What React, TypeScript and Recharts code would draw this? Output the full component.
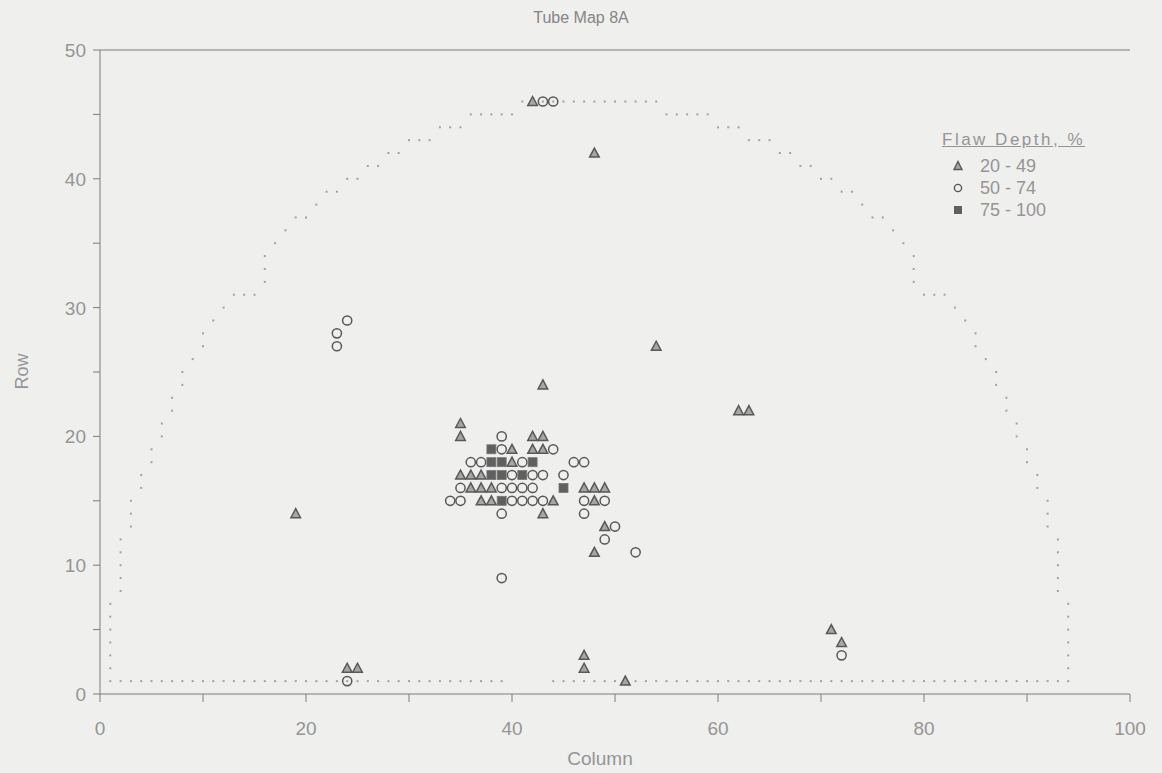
import React from 'react';
import { ScatterChart, Scatter, XAxis, YAxis, ReferenceLine } from 'recharts';

// ---------- data ----------
const xTicks = [0, 10, 20, 30, 40, 50, 60, 70, 80, 90, 100];
const xTickLabels = [0, 20, 40, 60, 80, 100];
const yTicks = [0, 5, 10, 15, 20, 25, 30, 35, 40, 45, 50];
const yTickLabels = [0, 10, 20, 30, 40, 50];

const chartTitle = 'Tube Map 8A';
const xTitle = 'Column';
const yTitle = 'Row';
const legendTitle = 'Flaw Depth, %';
const seriesNames = ['20 - 49', '50 - 74', '75 - 100'];

// tubes on the tubesheet boundary: row 1 columns
const outlineRow1Cols = [
  1, 2, 3, 4, 5, 6, 7, 8, 9, 10, 11, 12, 13, 14, 15, 16, 17, 18, 19, 20,
  21, 22, 23, 24, 25, 26, 27, 28, 29, 30, 31, 32, 33, 34, 35, 36, 37, 38, 39,
  44, 45, 46, 47, 48, 49, 50, 51, 52, 53, 54, 55, 56, 57, 58, 59, 60, 61, 62,
  63, 64, 65, 66, 67, 68, 69, 70, 71, 72, 73, 74, 75, 76, 77, 78, 79, 80, 81,
  82, 83, 84, 85, 86, 87, 88, 89, 90, 91, 92, 93, 94,
];

// boundary tubes above row 1: [column, row]
const outlineEdge: [number, number][] = [
  [1, 2], [1, 3], [1, 4], [1, 5], [1, 6], [1, 7],
  [2, 8], [2, 9], [2, 10], [2, 11], [2, 12],
  [3, 13], [3, 14], [3, 15],
  [4, 16], [4, 17],
  [5, 18], [5, 19],
  [6, 20], [6, 21],
  [7, 22], [7, 23],
  [8, 24], [8, 25],
  [9, 26],
  [10, 27], [10, 28],
  [11, 29],
  [12, 30],
  [13, 31], [14, 31], [15, 31],
  [16, 32], [16, 33], [16, 34],
  [17, 35],
  [18, 36],
  [19, 37], [20, 37],
  [21, 38],
  [22, 39], [23, 39],
  [24, 40], [25, 40],
  [26, 41], [27, 41],
  [28, 42], [29, 42],
  [30, 43], [31, 43], [32, 43],
  [33, 44], [34, 44], [35, 44],
  [36, 45], [37, 45], [38, 45], [39, 45], [40, 45],
  [41, 46], [42, 46], [43, 46], [44, 46], [45, 46], [46, 46], [47, 46],
  [48, 46], [49, 46], [50, 46], [51, 46], [52, 46], [53, 46], [54, 46],
  [55, 45], [56, 45], [57, 45], [58, 45], [59, 45],
  [60, 44], [61, 44], [62, 44],
  [63, 43], [64, 43], [65, 43],
  [66, 42], [67, 42],
  [68, 41], [69, 41],
  [70, 40], [71, 40],
  [72, 39], [73, 39],
  [74, 38],
  [75, 37], [76, 37],
  [77, 36],
  [78, 35],
  [79, 32], [79, 33], [79, 34],
  [80, 31], [81, 31], [82, 31],
  [83, 30],
  [84, 29],
  [85, 27], [85, 28],
  [86, 26],
  [87, 24], [87, 25],
  [88, 22], [88, 23],
  [89, 20], [89, 21],
  [90, 18], [90, 19],
  [91, 16], [91, 17],
  [92, 13], [92, 14], [92, 15],
  [93, 8], [93, 9], [93, 10], [93, 11], [93, 12],
  [94, 2], [94, 3], [94, 4], [94, 5], [94, 6], [94, 7],
];

// flaw depth 20 - 49 %  [column, row]
const flaw20to49: [number, number][] = [
  [19, 14], [24, 2], [25, 2], [35, 21], [35, 20], [42, 20], [43, 20],
  [40, 19], [42, 19], [43, 19], [40, 18], [35, 17], [36, 17], [37, 17],
  [36, 16], [37, 16], [38, 16], [37, 15], [38, 15], [44, 15], [43, 14],
  [47, 16], [48, 16], [49, 16], [48, 15], [49, 13], [48, 11], [47, 3],
  [47, 2], [51, 1], [42, 46], [48, 42], [54, 27], [62, 22], [63, 22],
  [71, 5], [72, 4], [43, 24],
];

// flaw depth 50 - 74 %
const flaw50to74: [number, number][] = [
  [24, 1], [23, 27], [23, 28], [24, 29], [39, 20], [39, 19], [44, 19],
  [36, 18], [37, 18], [41, 18], [46, 18], [47, 18], [40, 17], [42, 17],
  [43, 17], [45, 17], [35, 16], [39, 16], [40, 16], [41, 16], [42, 16],
  [34, 15], [35, 15], [40, 15], [41, 15], [42, 15], [43, 15], [47, 15],
  [49, 15], [39, 14], [47, 14], [50, 13], [49, 12], [52, 11], [39, 9],
  [72, 3], [43, 46], [44, 46],
];

// flaw depth 75 - 100 %
const flaw75to100: [number, number][] = [
  [38, 19], [38, 18], [39, 18], [42, 18], [38, 17], [39, 17], [41, 17],
  [39, 15], [45, 16],
];

// ---------- helpers ----------
const toPts = (arr: [number, number][]) => arr.map(([col, row]) => ({ col, row }));
const outlineData = [
  ...outlineRow1Cols.map((col) => ({ col, row: 1 })),
  ...toPts(outlineEdge),
];

const TEXT = '#959595';
const AXIS = '#7c7c7c';
const MARK = '#585858';
const FONT = '"Liberation Sans", Arial, Helvetica, sans-serif';

const DotShape = (p: any) => (
  <rect x={p.cx - 1} y={p.cy - 1} width={2} height={2} fill="#a2a2a2" />
);
const TriShape = (p: any) => (
  <path
    d={`M${p.cx},${p.cy - 5} L${p.cx + 4.8},${p.cy + 4} L${p.cx - 4.8},${p.cy + 4} Z`}
    fill="#a6a6a6"
    stroke={MARK}
    strokeWidth={1.5}
  />
);
const CircShape = (p: any) => (
  <circle cx={p.cx} cy={p.cy} r={4.6} fill="none" stroke={MARK} strokeWidth={1.5} />
);
const SqShape = (p: any) => (
  <rect x={p.cx - 4.5} y={p.cy - 4.5} width={9} height={9} fill="#606060" stroke="#777" strokeWidth={0.8} />
);

const XTick = (p: any) =>
  xTickLabels.includes(p.payload.value) ? (
    <text x={p.x} y={p.y} dy={31} textAnchor="middle" fill={TEXT} fontSize={19} fontFamily={FONT}>
      {p.payload.value}
    </text>
  ) : null;

const YTick = (p: any) =>
  yTickLabels.includes(p.payload.value) ? (
    <text x={p.x} y={p.y} dx={-5} dy={7} textAnchor="end" fill={TEXT} fontSize={19} fontFamily={FONT}>
      {p.payload.value}
    </text>
  ) : null;

const LegendMarker = ({ kind }: { kind: number }) => (
  <svg width={12} height={12} style={{ display: 'block' }}>
    {kind === 0 && <path d="M6,1.5 L10,9.5 L2,9.5 Z" fill="#a6a6a6" stroke={MARK} strokeWidth={1.4} />}
    {kind === 1 && <circle cx={6} cy={6} r={3.6} fill="none" stroke={MARK} strokeWidth={1.4} />}
    {kind === 2 && <rect x={2} y={2} width={8} height={8} fill="#606060" />}
  </svg>
);

export default function App() {
  return (
    <div
      style={{
        position: 'absolute',
        left: 0,
        top: 0,
        width: 1162,
        height: 773,
        background: '#efefed',
        fontFamily: FONT,
        overflow: 'hidden',
      }}
    >
      <div
        style={{
          position: 'absolute',
          left: 0,
          width: 1162,
          top: 9,
          textAlign: 'center',
          fontSize: 16,
          color: '#858585',
        }}
      >
        {chartTitle}
      </div>

      <div
        style={{
          position: 'absolute',
          left: 500,
          width: 200,
          top: 748,
          textAlign: 'center',
          fontSize: 19,
          color: TEXT,
        }}
      >
        {xTitle}
      </div>

      <div
        style={{
          position: 'absolute',
          left: -28,
          top: 361,
          width: 100,
          textAlign: 'center',
          fontSize: 18,
          color: TEXT,
          transform: 'rotate(-90deg)',
        }}
      >
        {yTitle}
      </div>

      <div style={{ position: 'absolute', left: 942, top: 130, color: TEXT, fontSize: 17 }}>
        <div style={{ textDecoration: 'underline', letterSpacing: 2.5, marginBottom: 5 }}>{legendTitle}</div>
        {seriesNames.map((n, i) => (
          <div key={n} style={{ display: 'flex', alignItems: 'center', height: 22, marginLeft: 10 }}>
            <LegendMarker kind={i} />
            <span style={{ marginLeft: 16, fontSize: 18 }}>{n}</span>
          </div>
        ))}
      </div>

      <ScatterChart width={1162} height={773} margin={{ top: 50, right: 32, bottom: 0, left: 0 }}>
        <XAxis
          type="number"
          dataKey="col"
          domain={[0, 100]}
          ticks={xTicks}
          interval={0}
          tick={<XTick />}
          tickSize={8}
          height={79}
          stroke={AXIS}
          allowDataOverflow
        />
        <YAxis
          type="number"
          dataKey="row"
          domain={[0, 50]}
          ticks={yTicks}
          interval={0}
          tick={<YTick />}
          tickSize={7}
          width={100}
          stroke={AXIS}
          allowDataOverflow
        />
        <ReferenceLine y={50} stroke={AXIS} strokeWidth={1} />
        <Scatter data={outlineData} shape={DotShape} isAnimationActive={false} />
        <Scatter data={toPts(flaw20to49)} shape={TriShape} isAnimationActive={false} />
        <Scatter data={toPts(flaw50to74)} shape={CircShape} isAnimationActive={false} />
        <Scatter data={toPts(flaw75to100)} shape={SqShape} isAnimationActive={false} />
      </ScatterChart>
    </div>
  );
}
